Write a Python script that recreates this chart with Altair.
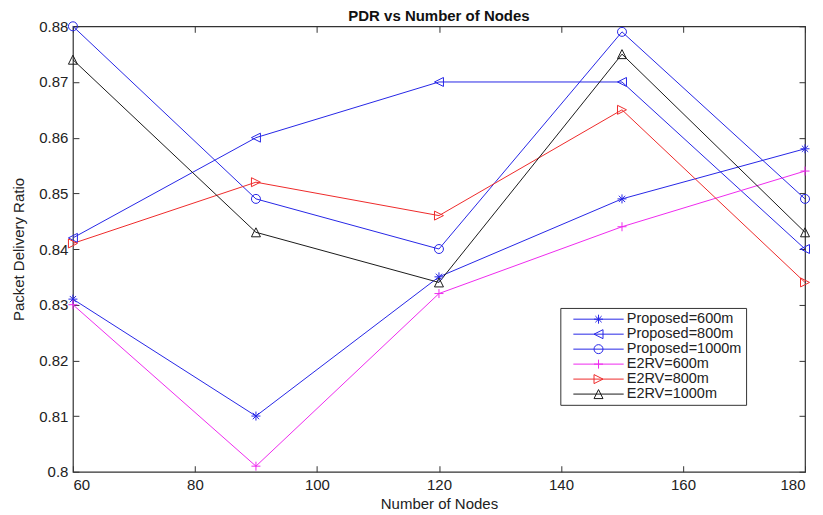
import altair as alt
import pandas as pd

nodes = [60, 90, 120, 150, 180]
series_names = ["Proposed=600m", "Proposed=800m", "Proposed=1000m",
                "E2RV=600m", "E2RV=800m", "E2RV=1000m"]
proposed_600 = [0.831, 0.810, 0.835, 0.849, 0.858]
proposed_800 = [0.842, 0.860, 0.870, 0.870, 0.840]
proposed_1000 = [0.880, 0.849, 0.840, 0.879, 0.849]
e2rv_600 = [0.830, 0.801, 0.832, 0.844, 0.854]
e2rv_800 = [0.841, 0.852, 0.846, 0.865, 0.834]
e2rv_1000 = [0.874, 0.843, 0.834, 0.875, 0.843]
x_ticks = [60, 80, 100, 120, 140, 160, 180]
y_ticks = [0.80, 0.81, 0.82, 0.83, 0.84, 0.85, 0.86, 0.87, 0.88]

colors = ["#2626e6", "#2626e6", "#2626e6", "#ee2aee", "#ee2a2a", "#1a1a1a"]
marker_paths = [
    "M-1,0H1M0,-1V1M-0.7,-0.7L0.7,0.7M-0.7,0.7L0.7,-0.7",
    "M-1,0L1,-1L1,1Z",
    "M-1,0A1,1,0,1,1,1,0A1,1,0,1,1,-1,0Z",
    "M-1,0H1M0,-1V1",
    "M1,0L-1,-1L-1,1Z",
    "M0,-1L1,1L-1,1Z",
]
legend_paths = ["M-5.6,0H5.6" + p for p in marker_paths]

all_vals = [proposed_600, proposed_800, proposed_1000, e2rv_600, e2rv_800, e2rv_1000]
rows = []
for name, vals in zip(series_names, all_vals):
    for n, v in zip(nodes, vals):
        rows.append({"nodes": n, "pdr": v, "series": name})
df = pd.DataFrame(rows)

FONT = "Liberation Sans"
xscale = alt.Scale(domain=[60, 180], nice=False, zero=False)
yscale = alt.Scale(domain=[0.80, 0.88], nice=False, zero=False)
color_scale = alt.Scale(domain=series_names, range=colors)
shape_scale = alt.Scale(domain=series_names, range=legend_paths)

base = alt.Chart(df)

legend_props = dict(title=None, orient="none", legendX=488, legendY=282,
                    labelFont=FONT, labelFontSize=14.5, labelColor="#222",
                    symbolSize=81, symbolStrokeWidth=1, symbolOffset=27,
                    labelOffset=21, rowPadding=0, padding=4, symbolOpacity=1,
                    strokeColor="#333", fillColor="white")

legend_layer = base.mark_point(size=0, filled=False, strokeWidth=1).encode(
    x=alt.X("nodes:Q", scale=xscale, axis=None),
    y=alt.Y("pdr:Q", scale=yscale, axis=None),
    color=alt.Color("series:N", scale=color_scale, sort=series_names,
                    legend=alt.Legend(**legend_props)),
    shape=alt.Shape("series:N", scale=shape_scale, sort=series_names,
                    legend=alt.Legend(**legend_props)),
)

lines = base.mark_line(strokeWidth=1).encode(
    x=alt.X("nodes:Q", scale=xscale,
            axis=alt.Axis(values=x_ticks, ticks=False, tickSize=0, domain=False, grid=False,
                          labelPadding=6, labelFont=FONT, labelFontSize=15, labelColor="#222",
                          title="Number of Nodes", titleFont=FONT, titleFontSize=15,
                          titleFontWeight="normal", titleColor="#222", titlePadding=4)),
    y=alt.Y("pdr:Q", scale=yscale,
            axis=alt.Axis(values=y_ticks, format=".2~f", ticks=False, tickSize=0, domain=False,
                          grid=False, labelPadding=5, labelFont=FONT, labelFontSize=15,
                          labelColor="#222", title="Packet Delivery Ratio", titleFont=FONT,
                          titleFontSize=15, titleFontWeight="normal", titleColor="#222",
                          titleX=-54, titleY=223, titleAlign="center", titleBaseline="middle")),
    color=alt.Color("series:N", scale=color_scale, sort=series_names),
    detail="series:N",
)

ticks_bl = base.mark_point(opacity=0).encode(
    x=alt.X("nodes:Q", scale=xscale,
            axis=alt.Axis(orient="bottom", values=x_ticks, labels=False, domain=False, grid=False,
                          tickSize=6, offset=-6, tickColor="#333", title=None)),
    y=alt.Y("pdr:Q", scale=yscale,
            axis=alt.Axis(orient="left", values=y_ticks, labels=False, domain=False, grid=False,
                          tickSize=6, offset=-6, tickColor="#333", title=None)),
)

ticks_tr = base.mark_point(opacity=0).encode(
    x=alt.X("nodes:Q", scale=xscale,
            axis=alt.Axis(orient="top", values=x_ticks, labels=False, domain=False, grid=False,
                          tickSize=6, offset=-6, tickColor="#333", title=None)),
    y=alt.Y("pdr:Q", scale=yscale,
            axis=alt.Axis(orient="right", values=y_ticks, labels=False, domain=False, grid=False,
                          tickSize=6, offset=-6, tickColor="#333", title=None)),
)

marker_layers = []
for name, path in zip(series_names, marker_paths):
    marker_layers.append(
        base.transform_filter(alt.datum.series == name)
        .mark_point(shape=path, filled=False, size=81, strokeWidth=1, opacity=1)
        .encode(
            x=alt.X("nodes:Q", scale=xscale, axis=None),
            y=alt.Y("pdr:Q", scale=yscale, axis=None),
            color=alt.Color("series:N", scale=color_scale, sort=series_names),
        )
    )

chart = alt.layer(legend_layer, lines, ticks_bl, ticks_tr, *marker_layers).resolve_axis(
    x="independent", y="independent"
).properties(
    width=733, height=446,
    autosize=alt.AutoSizeParams(type="none"),
    padding={"left": 65, "top": 18, "right": 10, "bottom": 42},
    title=alt.TitleParams("PDR vs Number of Nodes", font=FONT, fontSize=15, fontWeight="bold",
                          anchor="middle", frame="group", offset=-5, color="#111"),
    background="white",
).configure_view(stroke="#333", strokeWidth=1.2)

chart.save("out.html", embed_options={"renderer": "svg", "actions": False})
